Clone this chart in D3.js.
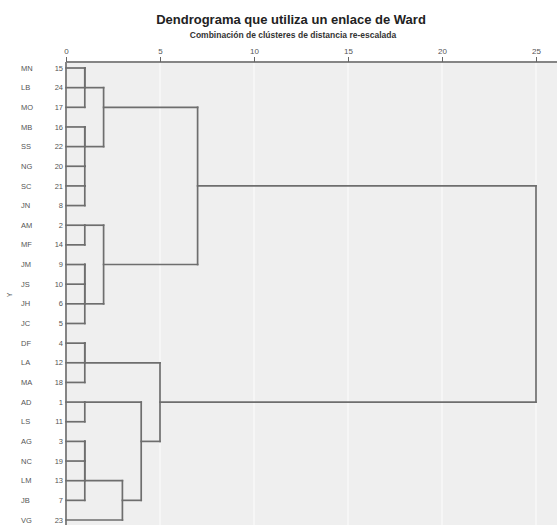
<!DOCTYPE html>
<html>
<head>
<meta charset="utf-8">
<script src="https://cdnjs.cloudflare.com/ajax/libs/d3/7.8.5/d3.min.js"></script>
<style>
  body { margin: 0; background: #fff; }
  text { font-family: "Liberation Sans", Arial, sans-serif; }
</style>
</head>
<body>
<div id="chart"></div>
<script>
// leaves, top to bottom
const leafNames = ['MN', 'LB', 'MO', 'MB', 'SS', 'NG', 'SC', 'JN', 'AM', 'MF', 'JM', 'JS',
  'JH', 'JC', 'DF', 'LA', 'MA', 'AD', 'LS', 'AG', 'NC', 'LM', 'JB', 'VG'];
const caseNumbers = [15, 24, 17, 16, 22, 20, 21, 8, 2, 14, 9, 10, 6, 5, 4, 12, 18, 1, 11, 3, 19, 13, 7, 23];

// merge steps: [a, b, rescaled distance]; index >= 24 points to an earlier step
const merges = [
  [0, 1, 1], [24, 2, 1], [3, 4, 1], [6, 7, 1], [5, 27, 1], [26, 28, 1], [25, 29, 2],
  [8, 9, 1], [10, 11, 1], [32, 12, 1], [33, 13, 1], [31, 34, 2], [30, 35, 7],
  [14, 15, 1], [37, 16, 1], [17, 18, 1], [19, 20, 1], [40, 21, 1], [41, 22, 1],
  [42, 23, 3], [39, 43, 4], [38, 44, 5], [36, 45, 25]
];
const distanceTicks = [0, 5, 10, 15, 20, 25];

const width = 557, height = 525;
const plot = { left: 66, top: 62, right: 565, bottom: 535 };

const svg = d3.select('#chart')
  .append('svg')
  .attr('width', width)
  .attr('height', height);

const x = d3.scaleLinear().domain([0, 25]).range([66, 536]);
const y = d3.scalePoint().domain(d3.range(leafNames.length)).range([68, 520]);

// plot background
svg.append('rect')
  .attr('x', plot.left)
  .attr('y', plot.top)
  .attr('width', plot.right - plot.left)
  .attr('height', plot.bottom - plot.top)
  .attr('fill', '#efefef');

// faint grid
svg.append('g')
  .selectAll('line')
  .data(distanceTicks.slice(1))
  .join('line')
  .attr('x1', (d) => x(d))
  .attr('x2', (d) => x(d))
  .attr('y1', plot.top)
  .attr('y2', plot.bottom)
  .attr('stroke', '#f8f8f8')
  .attr('stroke-width', 1.5);

// top axis
const axis = svg.append('g')
  .attr('transform', `translate(0,${plot.top})`)
  .call(d3.axisTop(x).tickValues(distanceTicks).tickSize(5).tickSizeOuter(0));
axis.select('.domain').attr('stroke', '#858585').attr('stroke-width', 2)
  .attr('d', `M${plot.left},0H${plot.right}`);
axis.selectAll('.tick line').attr('stroke', '#666');
axis.selectAll('.tick text')
  .attr('fill', '#555')
  .style('font-size', '8px')
  .attr('y', -8);

// left frame
svg.append('line')
  .attr('x1', plot.left).attr('x2', plot.left)
  .attr('y1', plot.top).attr('y2', plot.bottom)
  .attr('stroke', '#858585')
  .attr('stroke-width', 2);

// build nodes: leaves sit on their row, merged clusters on the lower middle row
const nodes = leafNames.map((d, i) => ({ row: i, dist: 0 }));
merges.forEach(([a, b, d]) => {
  nodes.push({ row: Math.floor((nodes[a].row + nodes[b].row) / 2), dist: d, a, b });
});

const segs = [];
nodes.filter((n) => n.a !== undefined).forEach((n) => {
  const A = nodes[n.a], B = nodes[n.b];
  segs.push([x(A.dist), y(A.row), x(n.dist), y(A.row)]);
  segs.push([x(B.dist), y(B.row), x(n.dist), y(B.row)]);
  segs.push([x(n.dist), y(A.row), x(n.dist), y(B.row)]);
});

svg.append('g')
  .selectAll('line')
  .data(segs)
  .join('line')
  .attr('x1', (d) => d[0])
  .attr('y1', (d) => d[1])
  .attr('x2', (d) => d[2])
  .attr('y2', (d) => d[3])
  .attr('stroke', '#6e6e6e')
  .attr('stroke-width', 1.7)
  .attr('stroke-linecap', 'square');

// leaf labels
const labels = svg.append('g').style('font-size', '7.5px').attr('fill', '#555');
labels.selectAll('.name')
  .data(leafNames)
  .join('text')
  .attr('class', 'name')
  .attr('x', 21)
  .attr('y', (d, i) => y(i))
  .attr('dy', '0.35em')
  .text((d) => d);
labels.selectAll('.num')
  .data(caseNumbers)
  .join('text')
  .attr('class', 'num')
  .attr('x', 63)
  .attr('y', (d, i) => y(i))
  .attr('dy', '0.35em')
  .attr('text-anchor', 'end')
  .text((d) => d);

svg.append('text')
  .attr('transform', 'translate(12,295) rotate(-90)')
  .attr('text-anchor', 'middle')
  .attr('fill', '#555')
  .style('font-size', '7px')
  .text('Y');

// titles
svg.append('text')
  .attr('x', 291)
  .attr('y', 24)
  .attr('text-anchor', 'middle')
  .attr('fill', '#222')
  .style('font-size', '13px')
  .style('font-weight', 'bold')
  .text('Dendrograma que utiliza un enlace de Ward');
svg.append('text')
  .attr('x', 293)
  .attr('y', 38)
  .attr('text-anchor', 'middle')
  .attr('fill', '#333')
  .style('font-size', '8.5px')
  .style('font-weight', 'bold')
  .text('Combinación de clústeres de distancia re-escalada');
</script>
</body>
</html>
